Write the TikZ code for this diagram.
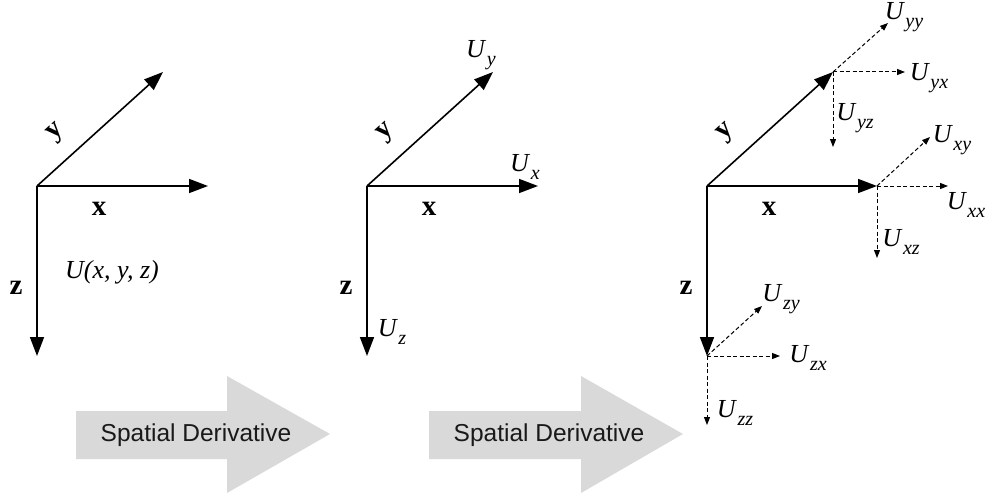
\documentclass[tikz,border=0pt]{standalone}
\usepackage{fontspec}
\setmainfont{Liberation Serif}
\setsansfont{Liberation Sans}
\usetikzlibrary{arrows.meta}
\newcommand\Usub[1]{\textit{U}\kern0.5pt\raisebox{-0.32em}{\fontsize{20}{21}\selectfont\textit{#1}}}
\begin{document}
\begin{tikzpicture}[x=1pt,y=-1pt,
 axis/.style={line width=1.6pt,-{Triangle[length=19pt,width=14pt]}},
 deriv/.style={line width=1pt,dash pattern=on 4pt off 2.5pt,-{Triangle[length=8pt,width=6pt]}},
 axlbl/.style={font=\fontsize{29}{32}\selectfont\bfseries, inner sep=0pt},
 ulbl/.style={font=\fontsize{26}{30}\selectfont, inner sep=0pt},
 bigarrow/.style={fill=black!15, draw=none},
 arrtext/.style={font=\sffamily\fontsize{24.5}{28}\selectfont, text=black!90, inner sep=0pt}]
\useasboundingbox (0,0) rectangle (987,500);

% ---------- Panel 1 ----------
\coordinate (O1) at (37,186);
\coordinate (X1) at (208,186);
\coordinate (Y1) at (163,72);
\coordinate (Z1) at (37,356);
\draw[axis] (O1) -- (X1);
\draw[axis] (O1) -- (Y1);
\draw[axis] (O1) -- (Z1);
\node[axlbl] (lx1) at (99,209) {x};
\node[axlbl, rotate=42] (ly1) at (57,133) {y};
\node[axlbl] (lz1) at (16,288) {z};
\node[ulbl] (u1) at (112,272) {\textit{U(x, y, z)}};

% ---------- Panel 2 ----------
\coordinate (O2) at (367,186);
\coordinate (X2) at (538,186);
\coordinate (Y2) at (493,72);
\coordinate (Z2) at (367,356);
\draw[axis] (O2) -- (X2);
\draw[axis] (O2) -- (Y2);
\draw[axis] (O2) -- (Z2);
\node[axlbl] (lx2) at (429,209) {x};
\node[axlbl, rotate=42] (ly2) at (387,133) {y};
\node[axlbl] (lz2) at (346,288) {z};
\node[ulbl] (uy2) at (481,55) {\Usub{y}};
\node[ulbl] (ux2) at (525,167) {\Usub{x}};
\node[ulbl] (uz2) at (392,332) {\Usub{z}};

% ---------- Panel 3 ----------
\coordinate (O3) at (707,186);
\coordinate (X3) at (877,186);
\coordinate (Y3) at (833,72);
\coordinate (Z3) at (707,356);
\draw[axis] (O3) -- (X3);
\draw[axis] (O3) -- (Y3);
\draw[axis] (O3) -- (Z3);
\node[axlbl] (lx3) at (769,209) {x};
\node[axlbl, rotate=42] (ly3) at (727,133) {y};
\node[axlbl] (lz3) at (686,288) {z};

\coordinate (eyy) at (888,23);
\coordinate (eyx) at (905,72);
\coordinate (eyz) at (833,147);
\coordinate (exy) at (930,137);
\coordinate (exx) at (948,186);
\coordinate (exz) at (877,258);
\coordinate (ezy) at (762,306);
\coordinate (ezx) at (780,356);
\coordinate (ezz) at (707,425);
\draw[deriv] (Y3) -- (eyy);
\draw[deriv] (Y3) -- (eyx);
\draw[deriv] (Y3) -- (eyz);
\draw[deriv] (X3) -- (exy);
\draw[deriv] (X3) -- (exx);
\draw[deriv] (X3) -- (exz);
\draw[deriv] (Z3) -- (ezy);
\draw[deriv] (Z3) -- (ezx);
\draw[deriv] (Z3) -- (ezz);
\node[ulbl] (uyy) at (904,17) {\Usub{yy}};
\node[ulbl] (uyx) at (929,78) {\Usub{yx}};
\node[ulbl] (uyz) at (855,118) {\Usub{yz}};
\node[ulbl] (uxy) at (952,140) {\Usub{xy}};
\node[ulbl] (uxx) at (966,205) {\Usub{xx}};
\node[ulbl] (uxz) at (901,242) {\Usub{xz}};
\node[ulbl] (uzy) at (781,299) {\Usub{zy}};
\node[ulbl] (uzx) at (808,358) {\Usub{zx}};
\node[ulbl] (uzz) at (735,413) {\Usub{zz}};

% ---------- Big grey arrows ----------
\fill[bigarrow] (76,411) -- (227,411) -- (227,376) -- (330,434) -- (227,493) -- (227,459) -- (76,459) -- cycle;
\node[arrtext] (sd1) at (196,435) {Spatial Derivative};
\fill[bigarrow] (429,411) -- (581,411) -- (581,376) -- (683,434) -- (581,493) -- (581,459) -- (429,459) -- cycle;
\node[arrtext] (sd2) at (549,435) {Spatial Derivative};
\end{tikzpicture}
\end{document}
